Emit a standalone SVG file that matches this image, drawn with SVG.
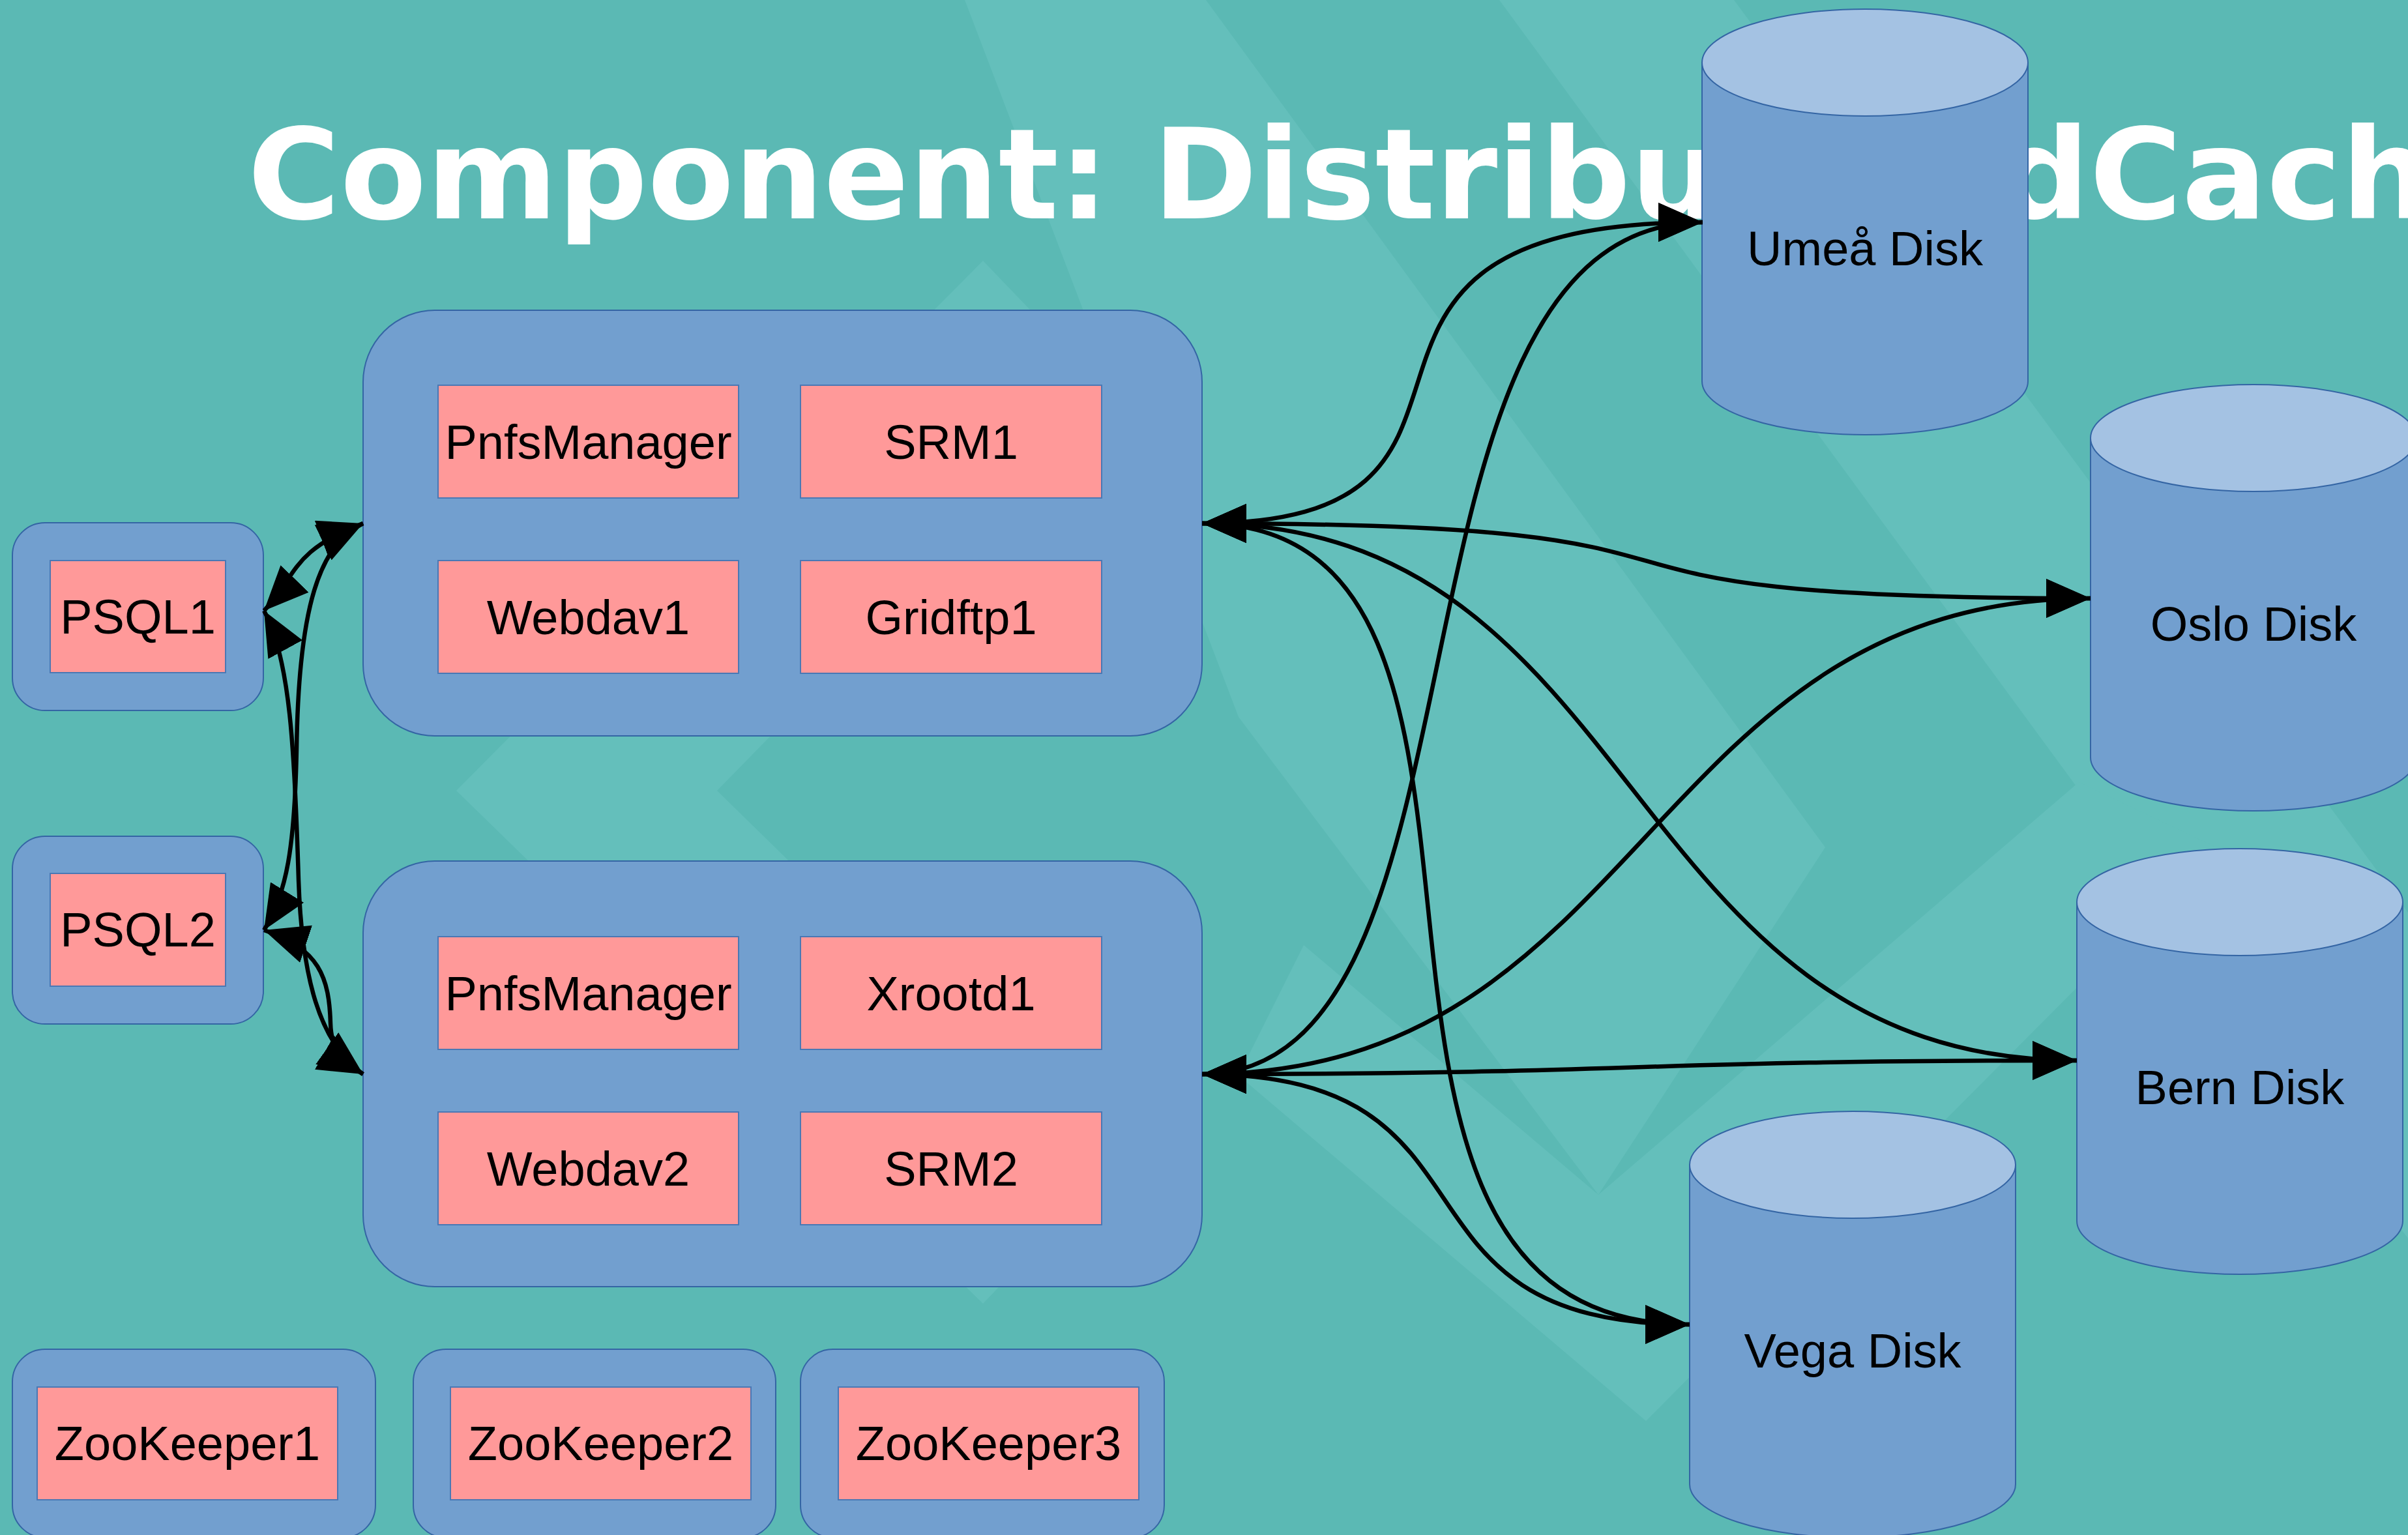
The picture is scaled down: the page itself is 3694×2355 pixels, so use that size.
<svg xmlns="http://www.w3.org/2000/svg" width="3694" height="2355" viewBox="0 0 3694 2355">
<defs>
<style>
.bg{fill:#5bb9b4}
.lt{fill:#64bfbb}
.cont{fill:#729fcf;stroke:#3465a4;stroke-width:2}
.box{fill:#ff9999;stroke:#4a78b4;stroke-width:2}
.cyl{fill:#729fcf;stroke:#3465a4;stroke-width:2}
.top{fill:#a4c2e3;stroke:#3465a4;stroke-width:2}
.lbl{font-family:"Liberation Sans",Arial,sans-serif;font-size:74px;fill:#000;text-anchor:middle}
.title{font-family:"DejaVu Sans",sans-serif;font-weight:bold;font-size:193px;fill:#fff}
.con{fill:none;stroke:#000;stroke-width:6.5;marker-start:url(#ah);marker-end:url(#ah)}
</style>
<marker id="ah" markerUnits="userSpaceOnUse" markerWidth="70" markerHeight="60" refX="68" refY="30" orient="auto-start-reverse" viewBox="0 0 70 60">
<path d="M0,0 L68,30 L0,60 Z" fill="#000"/>
</marker>
</defs>
<rect class="bg" x="0" y="0" width="3694" height="2355"/>
<g id="background">
<polygon class="lt" points="1480,0 1850,0 2800,1300 2452,1833 1900,1100"/>
<polygon class="lt" points="2300,0 2660,0 3694,1400 3694,1900"/>
<polygon class="lt" points="700,1213 1508,400 1700,600 1100,1213 1700,1800 1508,2000"/>
<polygon class="lt" points="2452,1833 3189,1200 3400,1300 2525,2180 1900,1650 2000,1450"/>
</g>
<text class="title" x="380" y="335">Component: Distributed dCache</text>
<g id="psql1"><rect class="cont" x="19" y="802" width="385" height="288" rx="50"/><rect class="box" x="77" y="860" width="269" height="172"/><text class="lbl" x="211.5" y="972">PSQL1</text></g>
<g id="psql2"><rect class="cont" x="19" y="1283" width="385" height="288" rx="50"/><rect class="box" x="77" y="1340" width="269" height="173"/><text class="lbl" x="211.5" y="1452">PSQL2</text></g>
<g id="door1"><rect class="cont" x="557" y="476" width="1287" height="653" rx="110"/>
<g id="pnfs1"><rect class="box" x="672" y="591" width="461" height="173"/><text class="lbl" x="902.5" y="704">PnfsManager</text></g>
<g id="srm1"><rect class="box" x="1228" y="591" width="462" height="173"/><text class="lbl" x="1459" y="704">SRM1</text></g>
<g id="webdav1"><rect class="box" x="672" y="860" width="461" height="173"/><text class="lbl" x="902.5" y="973">Webdav1</text></g>
<g id="gridftp1"><rect class="box" x="1228" y="860" width="462" height="173"/><text class="lbl" x="1459" y="973">Gridftp1</text></g>
</g>
<g id="door2"><rect class="cont" x="557" y="1321" width="1287" height="653" rx="110"/>
<g id="pnfs2"><rect class="box" x="672" y="1437" width="461" height="173"/><text class="lbl" x="902.5" y="1550">PnfsManager</text></g>
<g id="xrootd1"><rect class="box" x="1228" y="1437" width="462" height="173"/><text class="lbl" x="1459" y="1550">Xrootd1</text></g>
<g id="webdav2"><rect class="box" x="672" y="1706" width="461" height="173"/><text class="lbl" x="902.5" y="1819">Webdav2</text></g>
<g id="srm2"><rect class="box" x="1228" y="1706" width="462" height="173"/><text class="lbl" x="1459" y="1819">SRM2</text></g>
</g>
<g id="zk1"><rect class="cont" x="19" y="2070" width="557" height="289" rx="50"/><rect class="box" x="57" y="2128" width="461" height="173"/><text class="lbl" x="287.5" y="2240">ZooKeeper1</text></g>
<g id="zk2"><rect class="cont" x="634" y="2070" width="556" height="289" rx="50"/><rect class="box" x="691" y="2128" width="461" height="173"/><text class="lbl" x="921.5" y="2240">ZooKeeper2</text></g>
<g id="zk3"><rect class="cont" x="1228" y="2070" width="558" height="289" rx="50"/><rect class="box" x="1286" y="2128" width="461" height="173"/><text class="lbl" x="1516.5" y="2240">ZooKeeper3</text></g>
<g id="umea"><path class="cyl" d="M2611,96 L2611,585 A250,82 0 0 0 3111,585 L3111,96 Z"/><ellipse class="top" cx="2861" cy="96" rx="250" ry="82"/><text class="lbl" x="2861" y="407">Umeå Disk</text></g>
<g id="oslo"><path class="cyl" d="M3207,672 L3207,1162 A250,82 0 0 0 3707,1162 L3707,672 Z"/><ellipse class="top" cx="3457" cy="672" rx="250" ry="82"/><text class="lbl" x="3457" y="983">Oslo Disk</text></g>
<g id="bern"><path class="cyl" d="M3186,1384 L3186,1873 A250,82 0 0 0 3686,1873 L3686,1384 Z"/><ellipse class="top" cx="3436" cy="1384" rx="250" ry="82"/><text class="lbl" x="3436" y="1694">Bern Disk</text></g>
<g id="vega"><path class="cyl" d="M2592,1787 L2592,2277 A250,82 0 0 0 3092,2277 L3092,1787 Z"/><ellipse class="top" cx="2842" cy="1787" rx="250" ry="82"/><text class="lbl" x="2842" y="2098">Vega Disk</text></g>
<g id="connectors">
<path class="con" d="M405,937 C455,885 445,845 557,803"/>
<path class="con" d="M557,803 C490,835 458,930 455,1150 C452,1300 440,1370 405,1427"/>
<path class="con" d="M405,937 C445,1010 452,1150 458,1350 C463,1500 490,1600 557,1648"/>
<path class="con" d="M405,1427 C490,1455 505,1500 507,1570 C508,1610 525,1630 557,1648"/>
<path class="con" d="M1844,803 C2398,803 1929,341 2612,341"/>
<path class="con" d="M1844,803 C2800,803 2250,918 3207,918"/>
<path class="con" d="M1844,803 C2530,803 2480,1627 3186,1627"/>
<path class="con" d="M1844,803 C2430,803 1940,2032 2592,2032"/>
<path class="con" d="M1844,1648 C2316,1648 2092,341 2612,341"/>
<path class="con" d="M1844,1648 C2525,1648 2525,918 3207,918"/>
<path class="con" d="M1844,1648 C2500,1648 2500,1627 3186,1627"/>
<path class="con" d="M1844,1648 C2330,1648 2100,2032 2592,2032"/>
</g>
</svg>
